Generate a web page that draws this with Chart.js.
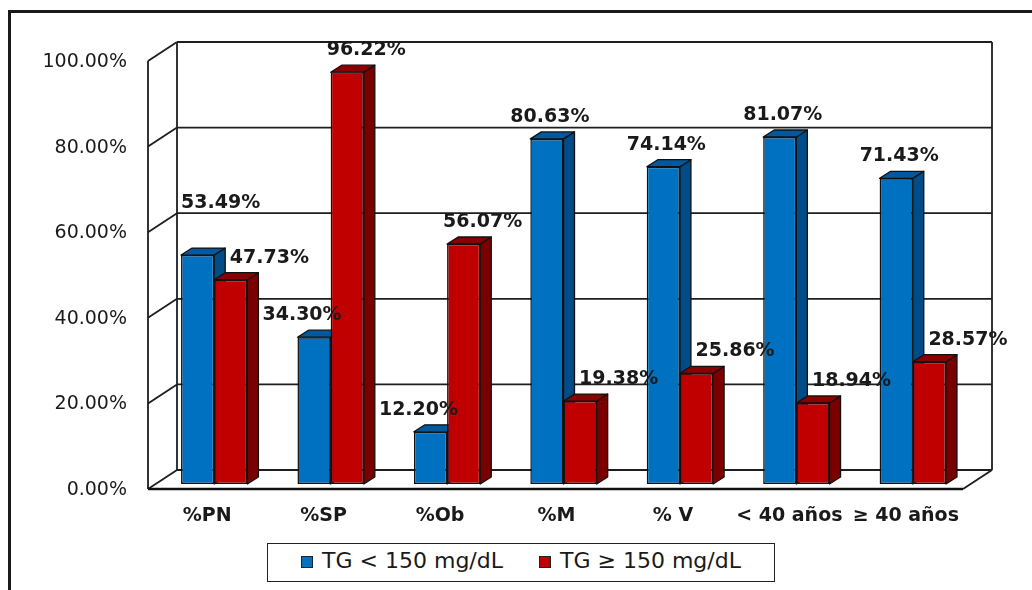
<!DOCTYPE html>
<html>
<head>
<meta charset="utf-8">
<script src="https://cdn.jsdelivr.net/npm/chart.js@4.4.0/dist/chart.umd.min.js"></script>
<style>
    body { margin: 0; background: #fff; }
    #lienzo { position: relative; width: 1032px; height: 590px; overflow: hidden; background: #fff; }
    #marco {
        position: absolute; left: 8px; top: 10px; width: 1100px; height: 700px;
        border-left: 3px solid #1a1a1a; border-top: 3px solid #1a1a1a;
    }
    #grafica { position: absolute; left: 0; top: 0; }
    #leyenda {
        position: absolute; left: 267px; top: 543px; width: 506px; height: 37px;
        border: 1.5px solid #222; background: #fff;
        display: flex; align-items: center; justify-content: center; gap: 36px;
        font-family: 'DejaVu Sans', sans-serif; font-size: 22px; color: #1a1a1a;
    }
    .item { display: flex; align-items: center; padding-bottom: 5px; }
    .cuadro { width: 10px; height: 10px; border: 1px solid #222; margin-right: 9px; margin-top: 4px; }
</style>
</head>
<body>
<div id="lienzo">
    <div id="marco"></div>
    <canvas id="grafica" width="1032" height="590"></canvas>
    <div id="leyenda"></div>
</div>
<script>
// Datos de la grafica (porcentajes por grupo de trigliceridos).
var categorias = ['%PN', '%SP', '%Ob', '%M', '% V', '< 40 años', '≥ 40 años'];
var etiquetasSeries = ['TG < 150 mg/dL', 'TG ≥ 150 mg/dL'];
var valoresTgBajo = [53.49, 34.30, 12.20, 80.63, 74.14, 81.07, 71.43];
var valoresTgAlto = [47.73, 96.22, 56.07, 19.38, 25.86, 18.94, 28.57];

var azulFrente = '#0070C0';
var azulLado = '#004C88';
var azulTapa = '#00589E';
var rojoFrente = '#C00000';
var rojoLado = '#7A0000';
var rojoTapa = '#8A0000';
var colorTexto = '#1a1a1a';
var fuente = "'DejaVu Sans', sans-serif";

// Desplazamientos de la perspectiva respecto al plano de las barras.
var FONDO = { dx: 21, dy: -14 };
var FRENTE = { dx: -8, dy: 5 };
var LADO = { dx: 11, dy: -7 };

// Traza una linea simple.
function linea(c, x1, y1, x2, y2) {
    c.beginPath();
    c.moveTo(x1, y1);
    c.lineTo(x2, y2);
    c.stroke();
}

// Rellena y contornea un poligono.
function poligono(c, puntos, relleno) {
    c.beginPath();
    c.moveTo(puntos[0][0], puntos[0][1]);
    for (var i = 1; i < puntos.length; i++) {
        c.lineTo(puntos[i][0], puntos[i][1]);
    }
    c.closePath();
    c.fillStyle = relleno;
    c.fill();
    c.stroke();
}

// Dibuja las paredes, el piso y las caras laterales de las barras (efecto 3D).
var paredes3D = {
    id: 'paredes3D',
    beforeDatasetsDraw: function (chart) {
        var c = chart.ctx;
        var area = chart.chartArea;
        var escalaY = chart.scales.y;
        var yTop = escalaY.getPixelForValue(escalaY.max);
        var yCero = escalaY.getPixelForValue(0);

        c.save();
        c.strokeStyle = '#1e1e1e';
        c.lineWidth = 1.8;

        // Lineas de division en la pared del fondo y en la pared izquierda.
        escalaY.ticks.forEach(function (t) {
            var yv = escalaY.getPixelForValue(t.value);
            linea(c, area.left + FONDO.dx, yv + FONDO.dy, area.right + FONDO.dx, yv + FONDO.dy);
            linea(c, area.left + FRENTE.dx, yv + FRENTE.dy, area.left + FONDO.dx, yv + FONDO.dy);
        });

        linea(c, area.left + FONDO.dx, yTop + FONDO.dy, area.left + FONDO.dx, yCero + FONDO.dy);
        linea(c, area.right + FONDO.dx, yTop + FONDO.dy, area.right + FONDO.dx, yCero + FONDO.dy);
        linea(c, area.left + FRENTE.dx, yTop + FRENTE.dy, area.left + FRENTE.dx, yCero + FRENTE.dy);
        linea(c, area.right + FRENTE.dx, yCero + FRENTE.dy, area.right + FONDO.dx, yCero + FONDO.dy);

        c.lineWidth = 2.6;
        c.strokeStyle = '#111';
        linea(c, area.left + FRENTE.dx, yCero + FRENTE.dy, area.right + FRENTE.dx, yCero + FRENTE.dy);

        // Caras laterales y superiores de cada barra, en orden de categoria.
        c.lineWidth = 1.3;
        c.lineJoin = 'round';
        for (var i = 0; i < categorias.length; i++) {
            for (var d = 0; d < chart.data.datasets.length; d++) {
                var barra = chart.getDatasetMeta(d).data[i];
                var izq = barra.x - barra.width / 2;
                var der = barra.x + barra.width / 2;
                var lado = d === 0 ? azulLado : rojoLado;
                var tapa = d === 0 ? azulTapa : rojoTapa;
                poligono(c, [[der, barra.y], [der + LADO.dx, barra.y + LADO.dy],
                    [der + LADO.dx, barra.base + LADO.dy], [der, barra.base]], lado);
                poligono(c, [[izq, barra.y], [izq + LADO.dx, barra.y + LADO.dy],
                    [der + LADO.dx, barra.y + LADO.dy], [der, barra.y]], tapa);
            }
        }
        c.restore();
    }
};

// Escribe el valor de cada barra encima de ella.
var etiquetasValor = {
    id: 'etiquetasValor',
    afterDatasetsDraw: function (chart) {
        var c = chart.ctx;
        c.save();
        c.font = 'bold 19px ' + fuente;
        c.fillStyle = colorTexto;
        c.textBaseline = 'middle';
        for (var i = 0; i < categorias.length; i++) {
            var azul = chart.getDatasetMeta(0).data[i];
            var rojo = chart.getDatasetMeta(1).data[i];
            var txtAzul = valoresTgBajo[i].toFixed(2) + '%';
            var txtRojo = valoresTgAlto[i].toFixed(2) + '%';
            var wAzul = c.measureText(txtAzul).width;
            var wRojo = c.measureText(txtRojo).width;

            // La etiqueta de la barra mas baja se aparta de la mas alta.
            var xAzul = valoresTgBajo[i] < valoresTgAlto[i] ? azul.x - 12 : azul.x + 3;
            var xRojo = valoresTgAlto[i] < valoresTgBajo[i] ? rojo.x - 1 + wRojo / 2 : rojo.x + 19;
            var yAzul = azul.y - 22;
            var yRojo = rojo.y - 22;

            // Si las dos etiquetas quedan casi juntas, sube la azul.
            var solapaX = (xAzul + wAzul / 2) > (xRojo - wRojo / 2);
            if (solapaX && Math.abs(yAzul - yRojo) < 30) {
                yAzul = yRojo - 55;
                xAzul = xAzul + 20;
            }

            c.textAlign = 'center';
            c.fillText(txtAzul, xAzul, yAzul);
            c.fillText(txtRojo, xRojo, yRojo);
        }
        c.restore();
    }
};

// Construye la leyenda en HTML con los colores de cada serie.
function crearLeyenda() {
    var leyenda = document.getElementById('leyenda');
    var colores = [azulFrente, rojoFrente];
    for (var i = 0; i < etiquetasSeries.length; i++) {
        var item = document.createElement('div');
        item.className = 'item';
        var cuadro = document.createElement('span');
        cuadro.className = 'cuadro';
        cuadro.style.background = colores[i];
        var texto = document.createElement('span');
        texto.textContent = etiquetasSeries[i];
        item.appendChild(cuadro);
        item.appendChild(texto);
        leyenda.appendChild(item);
    }
}

var context = document.getElementById('grafica').getContext('2d');
var chart = new Chart(context, {
    type: 'bar',
    data: {
        labels: categorias,
        datasets: [
            { label: etiquetasSeries[0], data: valoresTgBajo, backgroundColor: azulFrente },
            { label: etiquetasSeries[1], data: valoresTgAlto, backgroundColor: rojoFrente }
        ]
    },
    options: {
        responsive: false,
        animation: false,
        devicePixelRatio: 1,
        layout: { padding: { left: 0, right: 61, top: 56, bottom: 56 } },
        datasets: {
            bar: {
                categoryPercentage: 0.57,
                barPercentage: 1,
                borderColor: '#111',
                borderWidth: 1.5,
                borderSkipped: false
            }
        },
        plugins: {
            legend: { display: false },
            tooltip: { enabled: false }
        },
        scales: {
            x: {
                grid: { display: false },
                border: { display: false },
                ticks: {
                    color: colorTexto,
                    font: { family: fuente, size: 19, weight: 'bold' },
                    padding: 13,
                    labelOffset: -7,
                    maxRotation: 0,
                    autoSkip: false
                },
                afterFit: function (escala) { escala.height = 50; }
            },
            y: {
                min: 0,
                max: 100,
                grid: { display: false },
                border: { display: false },
                ticks: {
                    stepSize: 20,
                    color: colorTexto,
                    font: { family: fuente, size: 19 },
                    padding: 21,
                    labelOffset: 6,
                    callback: function (v) { return v.toFixed(2) + '%'; }
                },
                afterFit: function (escala) { escala.width = 156; }
            }
        }
    },
    plugins: [paredes3D, etiquetasValor]
});

crearLeyenda();
</script>
</body>
</html>
